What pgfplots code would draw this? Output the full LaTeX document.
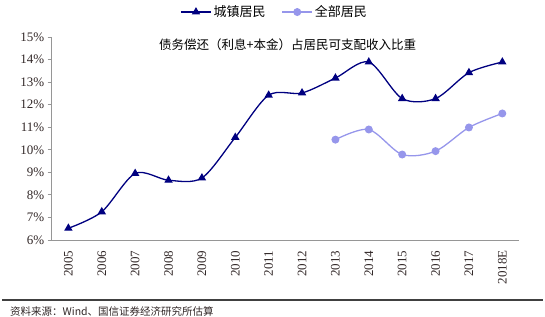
\documentclass[border=0pt]{standalone}
\usepackage{pgfplots}
\pgfplotsset{compat=1.18}
\usepackage{fontspec}
\setmainfont{Liberation Serif}
\newfontfamily\cjk{Noto Sans CJK SC}
\definecolor{navy}{RGB}{0,0,128}
\definecolor{peri}{RGB}{150,150,235}
\definecolor{axgray}{RGB}{150,150,150}
\definecolor{txt}{RGB}{50,40,40}
\begin{document}
\begin{tikzpicture}[x=1bp,y=1bp]
\path[use as bounding box] (0,0) rectangle (545,316);
\begin{axis}[
  at={(51.7bp,76bp)}, anchor=south west,
  scale only axis, width=467.3bp, height=203bp,
  xmin=-0.5, xmax=13.5, ymin=6, ymax=15,
  axis x line*=bottom, axis y line*=left,
  axis line style={draw=axgray, line width=0.8bp},
  xtick={0,...,13},
  xticklabels={2005,2006,2007,2008,2009,2010,2011,2012,2013,2014,2015,2016,2017,2018E},
  minor xtick={-0.5,0.5,...,13.5},
  x tick label style={rotate=90, anchor=east, font=\fontsize{13bp}{15bp}\selectfont, text=txt},
  xtick style={draw=none},
  minor tick length=4bp,
  tick align=outside,
  every minor tick/.style={draw=axgray, line width=0.8bp},
  ytick={6,...,15},
  yticklabels={6\%,7\%,8\%,9\%,10\%,11\%,12\%,13\%,14\%,15\%},
  y tick label style={font=\fontsize{13bp}{15bp}\selectfont, text=txt},
  ytick style={draw=axgray, line width=0.8bp},
  major tick length=4bp,
  xticklabel shift=3bp,
  legend style={at={(0.477,1.123)}, anchor=center, draw=none, fill=none,
    legend columns=2, font=\cjk\fontsize{13bp}{15bp}\selectfont,
    /tikz/every even column/.append style={column sep=14bp}},
  legend image code/.code={\draw[mark repeat=2,mark phase=2,#1] plot coordinates {(0bp,0bp) (15bp,0bp) (30bp,0bp)};},
  clip=false,
]
\addplot[navy, line width=1.3bp, smooth, tension=0.5, mark=triangle*, mark size=3.6bp, mark options={solid, fill=navy}]
coordinates {(0,6.52) (1,7.25) (2,8.95) (3,8.65) (4,8.75) (5,10.55) (6,12.42) (7,12.52) (8,13.18) (9,13.89) (10,12.27) (11,12.27) (12,13.42) (13,13.89)};
\addlegendentry{城镇居民}
\addplot[peri, line width=1.3bp, smooth, tension=0.5, mark=*, mark size=3.3bp, mark options={solid, fill=peri, draw=peri}]
coordinates {(8,10.45) (9,10.90) (10,9.79) (11,9.94) (12,10.99) (13,11.61)};
\addlegendentry{全部居民}
\node[font=\cjk\fontsize{12.5bp}{15bp}\selectfont, text=black] at (rel axis cs:0.505,0.96) {债务偿还（利息+本金）占居民可支配收入比重};
\end{axis}
\draw[line width=1.2bp, draw=black!75] (2,16) -- (543,16);
\node[anchor=west, font=\cjk\fontsize{10.5bp}{12bp}\selectfont, text=txt, inner sep=0pt] at (10,4.5) {资料来源：Wind、国信证券经济研究所估算};
\end{tikzpicture}
\end{document}
